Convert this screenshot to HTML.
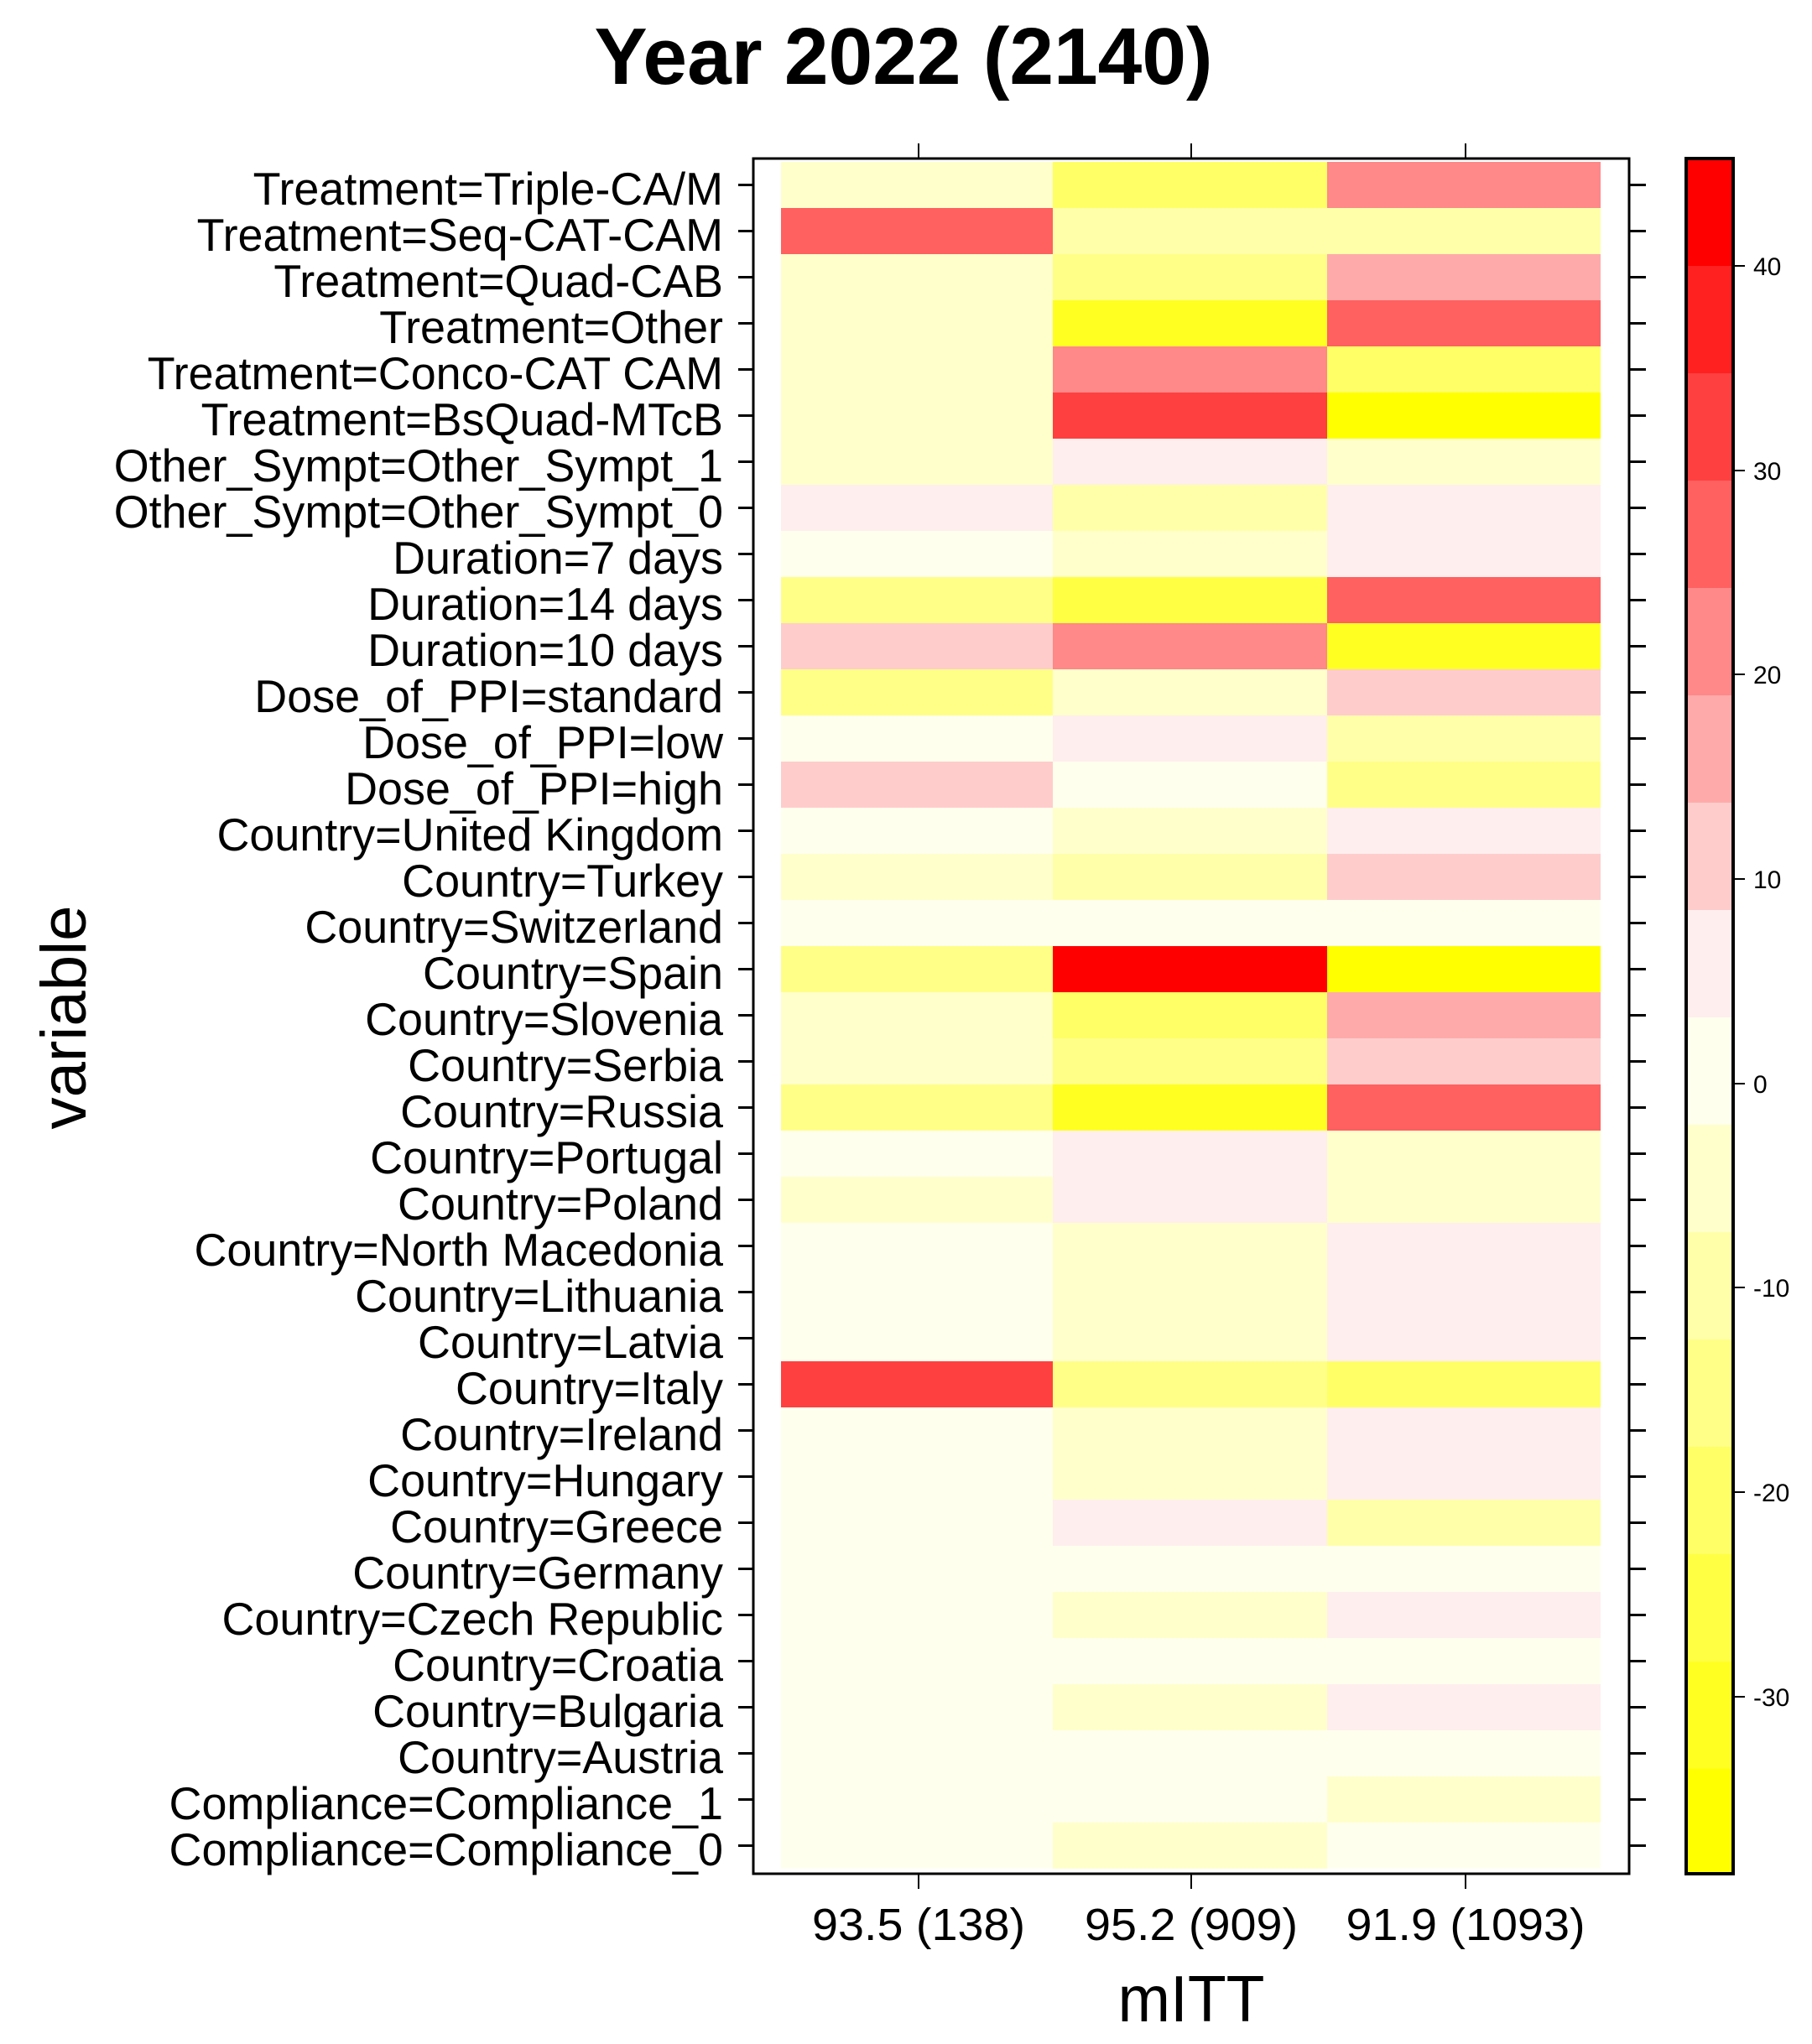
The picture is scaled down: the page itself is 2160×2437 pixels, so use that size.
<!DOCTYPE html>
<html><head><meta charset="utf-8"><style>
html,body{margin:0;padding:0;background:#fff}
svg{display:block}
.r0{fill:#FF0000}.r1{fill:#FF2020}.r2{fill:#FF4040}.r3{fill:#FF6060}.r4{fill:#FF8888}.r5{fill:#FFAAAA}.r6{fill:#FFCCCC}.r7{fill:#FFEEEE}
.y0{fill:#FFFFEE}.y1{fill:#FFFFCC}.y2{fill:#FFFFAA}.y3{fill:#FFFF88}.y4{fill:#FFFF66}.y5{fill:#FFFF44}.y6{fill:#FFFF22}.y7{fill:#FFFF00}
text{font-family:"Liberation Sans",Arial,sans-serif;fill:#000}
.lb{font-size:55px;text-anchor:end;transform-origin:862px 0px;transform:scaleX(0.98)}
</style></head><body>
<svg width="2160" height="2437" viewBox="0 0 2160 2437" xmlns="http://www.w3.org/2000/svg">
<text x="1077" y="100" font-size="96" font-weight="bold" text-anchor="middle" textLength="737" lengthAdjust="spacingAndGlyphs">Year 2022 (2140)</text>
<text transform="translate(102,1213) rotate(-90)" font-size="76" text-anchor="middle" textLength="267" lengthAdjust="spacingAndGlyphs">variable</text>
<text x="1420" y="2410" font-size="78" text-anchor="middle" textLength="175" lengthAdjust="spacingAndGlyphs">mITT</text>
<g font-size="54" text-anchor="middle">
<text x="1095" y="2313" textLength="254" lengthAdjust="spacingAndGlyphs">93.5 (138)</text>
<text x="1420" y="2313" textLength="254" lengthAdjust="spacingAndGlyphs">95.2 (909)</text>
<text x="1747" y="2313" textLength="285" lengthAdjust="spacingAndGlyphs">91.9 (1093)</text>
</g>
<g stroke="#000" stroke-width="2">
<line x1="1095" y1="171" x2="1095" y2="189"/><line x1="1420" y1="171" x2="1420" y2="189"/><line x1="1747" y1="171" x2="1747" y2="189"/>
<line x1="1095" y1="2234" x2="1095" y2="2252"/><line x1="1420" y1="2234" x2="1420" y2="2252"/><line x1="1747" y1="2234" x2="1747" y2="2252"/>
</g>
<g id="rows">
<g transform="translate(0,193)"><rect x="931" width="325" height="55" class="y1"/><rect x="1255" width="328" height="55" class="y4"/><rect x="1582" width="326" height="55" class="r4"/><text x="862" y="51" class="lb">Treatment=Triple-CA/M</text></g>
<g transform="translate(0,248)"><rect x="931" width="325" height="55" class="r3"/><rect x="1255" width="328" height="55" class="y2"/><rect x="1582" width="326" height="55" class="y2"/><text x="862" y="51" class="lb">Treatment=Seq-CAT-CAM</text></g>
<g transform="translate(0,303)"><rect x="931" width="325" height="55" class="y1"/><rect x="1255" width="328" height="55" class="y3"/><rect x="1582" width="326" height="55" class="r5"/><text x="862" y="51" class="lb">Treatment=Quad-CAB</text></g>
<g transform="translate(0,358)"><rect x="931" width="325" height="55" class="y1"/><rect x="1255" width="328" height="55" class="y6"/><rect x="1582" width="326" height="55" class="r3"/><text x="862" y="51" class="lb">Treatment=Other</text></g>
<g transform="translate(0,413)"><rect x="931" width="325" height="55" class="y1"/><rect x="1255" width="328" height="55" class="r4"/><rect x="1582" width="326" height="55" class="y4"/><text x="862" y="51" class="lb">Treatment=Conco-CAT CAM</text></g>
<g transform="translate(0,468)"><rect x="931" width="325" height="55" class="y1"/><rect x="1255" width="328" height="55" class="r2"/><rect x="1582" width="326" height="55" class="y7"/><text x="862" y="51" class="lb">Treatment=BsQuad-MTcB</text></g>
<g transform="translate(0,523)"><rect x="931" width="325" height="55" class="y1"/><rect x="1255" width="328" height="55" class="r7"/><rect x="1582" width="326" height="55" class="y1"/><text x="862" y="51" class="lb">Other_Sympt=Other_Sympt_1</text></g>
<g transform="translate(0,578)"><rect x="931" width="325" height="55" class="r7"/><rect x="1255" width="328" height="55" class="y2"/><rect x="1582" width="326" height="55" class="r7"/><text x="862" y="51" class="lb">Other_Sympt=Other_Sympt_0</text></g>
<g transform="translate(0,633)"><rect x="931" width="325" height="55" class="y0"/><rect x="1255" width="328" height="55" class="y1"/><rect x="1582" width="326" height="55" class="r7"/><text x="862" y="51" class="lb">Duration=7 days</text></g>
<g transform="translate(0,688)"><rect x="931" width="325" height="55" class="y3"/><rect x="1255" width="328" height="55" class="y5"/><rect x="1582" width="326" height="55" class="r3"/><text x="862" y="51" class="lb">Duration=14 days</text></g>
<g transform="translate(0,743)"><rect x="931" width="325" height="55" class="r6"/><rect x="1255" width="328" height="55" class="r4"/><rect x="1582" width="326" height="55" class="y6"/><text x="862" y="51" class="lb">Duration=10 days</text></g>
<g transform="translate(0,798)"><rect x="931" width="325" height="55" class="y3"/><rect x="1255" width="328" height="55" class="y1"/><rect x="1582" width="326" height="55" class="r6"/><text x="862" y="51" class="lb">Dose_of_PPI=standard</text></g>
<g transform="translate(0,853)"><rect x="931" width="325" height="55" class="y0"/><rect x="1255" width="328" height="55" class="r7"/><rect x="1582" width="326" height="55" class="y2"/><text x="862" y="51" class="lb">Dose_of_PPI=low</text></g>
<g transform="translate(0,908)"><rect x="931" width="325" height="55" class="r6"/><rect x="1255" width="328" height="55" class="y0"/><rect x="1582" width="326" height="55" class="y3"/><text x="862" y="51" class="lb">Dose_of_PPI=high</text></g>
<g transform="translate(0,963)"><rect x="931" width="325" height="55" class="y0"/><rect x="1255" width="328" height="55" class="y1"/><rect x="1582" width="326" height="55" class="r7"/><text x="862" y="51" class="lb">Country=United Kingdom</text></g>
<g transform="translate(0,1018)"><rect x="931" width="325" height="55" class="y1"/><rect x="1255" width="328" height="55" class="y2"/><rect x="1582" width="326" height="55" class="r6"/><text x="862" y="51" class="lb">Country=Turkey</text></g>
<g transform="translate(0,1073)"><rect x="931" width="325" height="55" class="y0"/><rect x="1255" width="328" height="55" class="y0"/><rect x="1582" width="326" height="55" class="y0"/><text x="862" y="51" class="lb">Country=Switzerland</text></g>
<g transform="translate(0,1128)"><rect x="931" width="325" height="55" class="y3"/><rect x="1255" width="328" height="55" class="r0"/><rect x="1582" width="326" height="55" class="y7"/><text x="862" y="51" class="lb">Country=Spain</text></g>
<g transform="translate(0,1183)"><rect x="931" width="325" height="55" class="y1"/><rect x="1255" width="328" height="55" class="y4"/><rect x="1582" width="326" height="55" class="r5"/><text x="862" y="51" class="lb">Country=Slovenia</text></g>
<g transform="translate(0,1238)"><rect x="931" width="325" height="55" class="y1"/><rect x="1255" width="328" height="55" class="y3"/><rect x="1582" width="326" height="55" class="r6"/><text x="862" y="51" class="lb">Country=Serbia</text></g>
<g transform="translate(0,1293)"><rect x="931" width="325" height="55" class="y3"/><rect x="1255" width="328" height="55" class="y6"/><rect x="1582" width="326" height="55" class="r3"/><text x="862" y="51" class="lb">Country=Russia</text></g>
<g transform="translate(0,1348)"><rect x="931" width="325" height="55" class="y0"/><rect x="1255" width="328" height="55" class="r7"/><rect x="1582" width="326" height="55" class="y1"/><text x="862" y="51" class="lb">Country=Portugal</text></g>
<g transform="translate(0,1403)"><rect x="931" width="325" height="55" class="y1"/><rect x="1255" width="328" height="55" class="r7"/><rect x="1582" width="326" height="55" class="y1"/><text x="862" y="51" class="lb">Country=Poland</text></g>
<g transform="translate(0,1458)"><rect x="931" width="325" height="55" class="y0"/><rect x="1255" width="328" height="55" class="y1"/><rect x="1582" width="326" height="55" class="r7"/><text x="862" y="51" class="lb">Country=North Macedonia</text></g>
<g transform="translate(0,1513)"><rect x="931" width="325" height="55" class="y0"/><rect x="1255" width="328" height="55" class="y1"/><rect x="1582" width="326" height="55" class="r7"/><text x="862" y="51" class="lb">Country=Lithuania</text></g>
<g transform="translate(0,1568)"><rect x="931" width="325" height="55" class="y0"/><rect x="1255" width="328" height="55" class="y1"/><rect x="1582" width="326" height="55" class="r7"/><text x="862" y="51" class="lb">Country=Latvia</text></g>
<g transform="translate(0,1623)"><rect x="931" width="325" height="55" class="r2"/><rect x="1255" width="328" height="55" class="y3"/><rect x="1582" width="326" height="55" class="y4"/><text x="862" y="51" class="lb">Country=Italy</text></g>
<g transform="translate(0,1678)"><rect x="931" width="325" height="55" class="y0"/><rect x="1255" width="328" height="55" class="y1"/><rect x="1582" width="326" height="55" class="r7"/><text x="862" y="51" class="lb">Country=Ireland</text></g>
<g transform="translate(0,1733)"><rect x="931" width="325" height="55" class="y0"/><rect x="1255" width="328" height="55" class="y1"/><rect x="1582" width="326" height="55" class="r7"/><text x="862" y="51" class="lb">Country=Hungary</text></g>
<g transform="translate(0,1788)"><rect x="931" width="325" height="55" class="y0"/><rect x="1255" width="328" height="55" class="r7"/><rect x="1582" width="326" height="55" class="y2"/><text x="862" y="51" class="lb">Country=Greece</text></g>
<g transform="translate(0,1843)"><rect x="931" width="325" height="55" class="y0"/><rect x="1255" width="328" height="55" class="y0"/><rect x="1582" width="326" height="55" class="y0"/><text x="862" y="51" class="lb">Country=Germany</text></g>
<g transform="translate(0,1898)"><rect x="931" width="325" height="55" class="y0"/><rect x="1255" width="328" height="55" class="y1"/><rect x="1582" width="326" height="55" class="r7"/><text x="862" y="51" class="lb">Country=Czech Republic</text></g>
<g transform="translate(0,1953)"><rect x="931" width="325" height="55" class="y0"/><rect x="1255" width="328" height="55" class="y0"/><rect x="1582" width="326" height="55" class="y0"/><text x="862" y="51" class="lb">Country=Croatia</text></g>
<g transform="translate(0,2008)"><rect x="931" width="325" height="55" class="y0"/><rect x="1255" width="328" height="55" class="y1"/><rect x="1582" width="326" height="55" class="r7"/><text x="862" y="51" class="lb">Country=Bulgaria</text></g>
<g transform="translate(0,2063)"><rect x="931" width="325" height="55" class="y0"/><rect x="1255" width="328" height="55" class="y0"/><rect x="1582" width="326" height="55" class="y0"/><text x="862" y="51" class="lb">Country=Austria</text></g>
<g transform="translate(0,2118)"><rect x="931" width="325" height="55" class="y0"/><rect x="1255" width="328" height="55" class="y0"/><rect x="1582" width="326" height="55" class="y1"/><text x="862" y="51" class="lb">Compliance=Compliance_1</text></g>
<g transform="translate(0,2173)"><rect x="931" width="325" height="55" class="y0"/><rect x="1255" width="328" height="55" class="y1"/><rect x="1582" width="326" height="55" class="y0"/><text x="862" y="51" class="lb">Compliance=Compliance_0</text></g>
</g>
<g stroke="#000" stroke-width="3">
<path d="M880 220.5h18M880 275.5h18M880 330.5h18M880 385.5h18M880 440.5h18M880 495.5h18M880 550.5h18M880 605.5h18M880 660.5h18M880 715.5h18M880 770.5h18M880 825.5h18M880 880.5h18M880 935.5h18M880 990.5h18M880 1045.5h18M880 1100.5h18M880 1155.5h18M880 1210.5h18M880 1265.5h18M880 1320.5h18M880 1375.5h18M880 1430.5h18M880 1485.5h18M880 1540.5h18M880 1595.5h18M880 1650.5h18M880 1705.5h18M880 1760.5h18M880 1815.5h18M880 1870.5h18M880 1925.5h18M880 1980.5h18M880 2035.5h18M880 2090.5h18M880 2145.5h18M880 2200.5h18"/>
<path d="M1942 220.5h20M1942 275.5h20M1942 330.5h20M1942 385.5h20M1942 440.5h20M1942 495.5h20M1942 550.5h20M1942 605.5h20M1942 660.5h20M1942 715.5h20M1942 770.5h20M1942 825.5h20M1942 880.5h20M1942 935.5h20M1942 990.5h20M1942 1045.5h20M1942 1100.5h20M1942 1155.5h20M1942 1210.5h20M1942 1265.5h20M1942 1320.5h20M1942 1375.5h20M1942 1430.5h20M1942 1485.5h20M1942 1540.5h20M1942 1595.5h20M1942 1650.5h20M1942 1705.5h20M1942 1760.5h20M1942 1815.5h20M1942 1870.5h20M1942 1925.5h20M1942 1980.5h20M1942 2035.5h20M1942 2090.5h20M1942 2145.5h20M1942 2200.5h20"/>
</g>
<rect x="898" y="189" width="1044" height="2045" fill="none" stroke="#000" stroke-width="3"/>
<g>
<rect x="2010" y="189" width="56" height="128" class="r0"/>
<rect x="2010" y="317" width="56" height="128" class="r1"/>
<rect x="2010" y="445" width="56" height="128" class="r2"/>
<rect x="2010" y="573" width="56" height="128" class="r3"/>
<rect x="2010" y="701" width="56" height="128" class="r4"/>
<rect x="2010" y="829" width="56" height="128" class="r5"/>
<rect x="2010" y="957" width="56" height="128" class="r6"/>
<rect x="2010" y="1085" width="56" height="128" class="r7"/>
<rect x="2010" y="1213" width="56" height="128" class="y0"/>
<rect x="2010" y="1341" width="56" height="128" class="y1"/>
<rect x="2010" y="1469" width="56" height="128" class="y2"/>
<rect x="2010" y="1597" width="56" height="128" class="y3"/>
<rect x="2010" y="1725" width="56" height="128" class="y4"/>
<rect x="2010" y="1853" width="56" height="128" class="y5"/>
<rect x="2010" y="1981" width="56" height="128" class="y6"/>
<rect x="2010" y="2109" width="56" height="125" class="y7"/>
<rect x="2010" y="189" width="56" height="2045" fill="none" stroke="#000" stroke-width="4"/>
</g>
<g stroke="#000" stroke-width="2">
<path d="M2066 317h14M2066 561h14M2066 804h14M2066 1048h14M2066 1292h14M2066 1535h14M2066 1779h14M2066 2023h14"/>
</g>
<g font-size="30">
<text x="2090" y="328">40</text>
<text x="2090" y="572">30</text>
<text x="2090" y="815">20</text>
<text x="2090" y="1059">10</text>
<text x="2090" y="1303">0</text>
<text x="2090" y="1546">-10</text>
<text x="2090" y="1790">-20</text>
<text x="2090" y="2034">-30</text>
</g>
</svg>
</body></html>
